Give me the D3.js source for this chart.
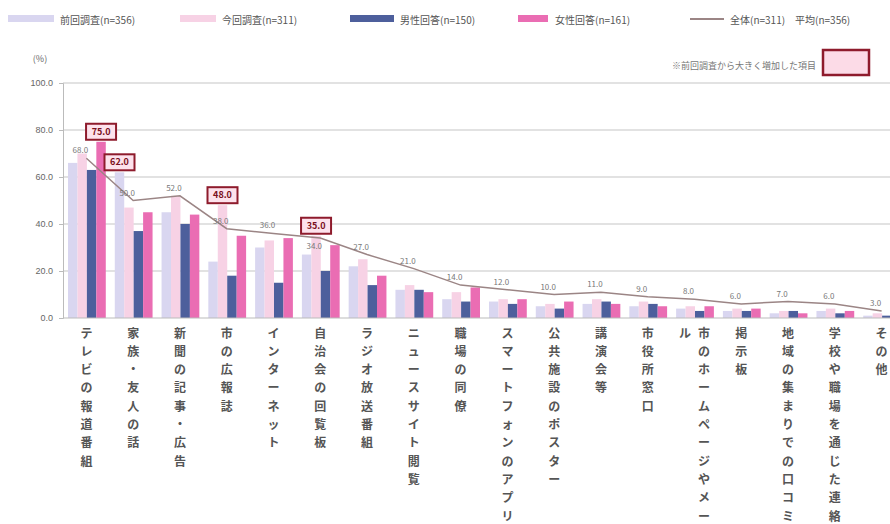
<!DOCTYPE html>
<html lang="ja">
<head>
<meta charset="utf-8">
<script src="https://cdn.jsdelivr.net/npm/d3@7"></script>
<style>
  html, body { margin: 0; padding: 0; background: #fff; overflow: hidden; }
  svg { display: block; font-family: "Noto Sans CJK JP", "Noto Sans", sans-serif; }
</style>
</head>
<body>
<svg id="chart" width="890" height="524"></svg>
<script>
// 情報の入手手段（複数回答）
const categories = [
  "テレビの報道番組", "家族・友人の話", "新聞の記事・広告", "市の広報誌",
  "インターネット", "自治会の回覧板", "ラジオ放送番組", "ニュースサイト閲覧",
  "職場の同僚", "スマートフォンのアプリ", "公共施設のポスター", "講演会等",
  "市役所窓口", "市のホームページやメール", "掲示板", "地域の集まりでの口コミ",
  "学校や職場を通じた連絡", "その他"
];

const seriesNames = ["前回調査(n=356)", "今回調査(n=311)", "男性回答(n=150)", "女性回答(n=161)"];
const lineName = "全体(n=311)　平均(n=356)";

const prevSurvey   = [66, 62, 45, 24, 30, 27, 22, 12, 8, 7, 5, 6, 5, 4, 3, 2, 3, 1];
const currSurvey   = [70, 47, 52, 48, 33, 35, 25, 14, 11, 8, 6, 8, 7, 5, 4, 3, 4, 2];
const maleValues   = [63, 37, 40, 18, 15, 20, 14, 12, 7, 6, 4, 7, 6, 3, 3, 3, 2, 1];
const femaleValues = [75, 45, 44, 35, 34, 31, 18, 11, 13, 8, 7, 6, 5, 5, 4, 2, 3, 2];
const overallValues = [68, 50, 52, 38, 36, 34, 27, 21, 14, 12, 10, 11, 9, 8, 6, 7, 6, 3];

// 前回から大きく増加した値（カテゴリ番号, 系列番号）
const highlightCats   = [0, 1, 3, 5];
const highlightSeries = [3, 0, 1, 1];

const yTicks = [0, 20, 40, 60, 80, 100];
const noteText = "※前回調査から大きく増加した項目";

const seriesValues = [prevSurvey, currSurvey, maleValues, femaleValues];
const barColors = ["#d9d6f0", "#f7d2e5", "#4d5f9c", "#ea6db3"];
const lineColor = "#9b8585";

const svg = d3.select("#chart");
const plot = { left: 63, right: 905, top: 83, bottom: 318 };

const x = d3.scaleBand().domain(d3.range(categories.length))
  .range([plot.left, plot.right]).paddingInner(0).paddingOuter(0);
const xs = d3.scaleBand().domain(d3.range(4))
  .range([5, x.bandwidth() - 4]).padding(0);
const y = d3.scaleLinear().domain([0, 100]).range([plot.bottom, plot.top]);

// 目盛線
svg.append("g").selectAll("line").data(yTicks.filter(d => d > 0)).join("line")
  .attr("x1", plot.left).attr("x2", 890)
  .attr("y1", d => y(d)).attr("y2", d => y(d))
  .attr("stroke", "#e2e2e2").attr("stroke-width", 2);

// Y軸
const yAxis = svg.append("g").attr("transform", `translate(${plot.left},0)`)
  .call(d3.axisLeft(y).tickValues(yTicks).tickFormat(d3.format(".1f")).tickSize(4));
yAxis.select(".domain").attr("stroke", "#bbb");
yAxis.selectAll(".tick line").attr("stroke", "#bbb");
yAxis.selectAll(".tick text").attr("fill", "#666").attr("font-size", 9).attr("x", -10);

svg.append("text").attr("x", 40).attr("y", 62).attr("text-anchor", "middle")
  .attr("font-size", 9).attr("fill", "#666").text("(%)");

// 棒
const groups = svg.append("g").selectAll("g").data(categories).join("g")
  .attr("transform", (d, i) => `translate(${x(i)},0)`);
groups.selectAll("rect").data((d, i) => seriesValues.map((s, k) => ({ k, v: s[i] }))).join("rect")
  .attr("x", d => xs(d.k)).attr("width", xs.bandwidth())
  .attr("y", d => y(d.v)).attr("height", d => plot.bottom - y(d.v))
  .attr("fill", d => barColors[d.k]);

// X軸の基線
svg.append("line").attr("x1", plot.left).attr("x2", 890)
  .attr("y1", plot.bottom).attr("y2", plot.bottom).attr("stroke", "#bbb");

// 強調ラベルの位置
const boxPos = highlightCats.map((c, j) => {
  const k = highlightSeries[j];
  const v = seriesValues[k][c];
  return { c, v, bx: x(c) + xs(k) + xs.bandwidth() / 2, by: y(v) - 10 };
});

// 全体の折れ線
const cx = i => x(i) + x.bandwidth() / 2;
svg.append("path").datum(overallValues)
  .attr("fill", "none").attr("stroke", lineColor).attr("stroke-width", 1.5)
  .attr("d", d3.line().x((d, i) => cx(i)).y(d => y(d)));

// 折れ線の値ラベル（強調ラベルと重なる場合は線の下に置く）
svg.append("g").selectAll("text").data(overallValues).join("text")
  .attr("x", (d, i) => cx(i) - 6)
  .attr("y", (d, i) => {
    const above = y(d) - 5;
    const hit = boxPos.some(b => b.c === i && Math.abs(b.by - (above - 3)) < 14);
    return hit ? y(d) + 11 : above;
  })
  .attr("text-anchor", "middle").attr("font-size", 8).attr("fill", "#777")
  .text(d => d3.format(".1f")(d));

// 強調ラベル
const hl = svg.append("g").selectAll("g").data(boxPos).join("g")
  .attr("transform", b => `translate(${b.bx},${b.by})`);
hl.append("rect").attr("x", -15).attr("y", -8).attr("width", 30).attr("height", 16)
  .attr("fill", "#fde2ec").attr("stroke", "#8e1b2c").attr("stroke-width", 2);
hl.append("text").attr("text-anchor", "middle").attr("dy", "0.35em")
  .attr("font-size", 9).attr("font-weight", "bold").attr("fill", "#7a1020")
  .text(b => d3.format(".1f")(b.v));

// カテゴリ名（縦書き、11字で折り返し）
const perCol = 11, charStep = 18.3, colGap = 19;
categories.forEach((label, i) => {
  const chars = Array.from(label);
  const cols = Math.ceil(chars.length / perCol);
  for (let c = 0; c < cols; c++) {
    const colX = cx(i) + (cols - 1) * colGap / 2 - c * colGap;
    chars.slice(c * perCol, (c + 1) * perCol).forEach((ch, r) => {
      svg.append("text").attr("x", colX).attr("y", 332 + r * charStep)
        .attr("text-anchor", "middle").attr("dominant-baseline", "central")
        .attr("font-size", 12).attr("font-weight", "bold").attr("fill", "#555")
        .text(ch);
    });
  }
});

// 凡例
const legendItems = [
  { type: "bar", color: barColors[0], sx: 8, sw: 46, tx: 60, label: seriesNames[0] },
  { type: "bar", color: barColors[1], sx: 180, sw: 36, tx: 222, label: seriesNames[1] },
  { type: "bar", color: barColors[2], sx: 350, sw: 44, tx: 400, label: seriesNames[2] },
  { type: "bar", color: barColors[3], sx: 518, sw: 30, tx: 555, label: seriesNames[3] },
  { type: "line", color: lineColor, sx: 690, sw: 34, tx: 730, label: lineName }
];
const lg = svg.append("g");
legendItems.forEach(it => {
  if (it.type === "bar") {
    lg.append("rect").attr("x", it.sx).attr("y", 15).attr("width", it.sw).attr("height", 7)
      .attr("fill", it.color);
  } else {
    lg.append("line").attr("x1", it.sx).attr("x2", it.sx + it.sw).attr("y1", 19).attr("y2", 19)
      .attr("stroke", it.color).attr("stroke-width", 2);
  }
  lg.append("text").attr("x", it.tx).attr("y", 19).attr("dominant-baseline", "central")
    .attr("font-size", 10).attr("fill", "#555").text(it.label);
});

// 強調ラベルの説明
svg.append("text").attr("x", 816).attr("y", 65).attr("text-anchor", "end")
  .attr("dominant-baseline", "central").attr("font-size", 9).attr("fill", "#777")
  .text(noteText);
svg.append("rect").attr("x", 823).attr("y", 50).attr("width", 46).attr("height", 25)
  .attr("fill", "#fcdbe7").attr("stroke", "#8e1b2c").attr("stroke-width", 2.5);
</script>
</body>
</html>
